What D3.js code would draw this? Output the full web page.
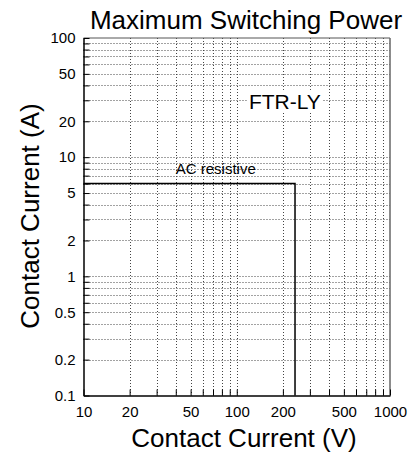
<!DOCTYPE html>
<html>
<head>
<meta charset="utf-8">
<script src="https://cdn.jsdelivr.net/npm/d3@7"></script>
<style>
  body { margin: 0; background: #fff; }
  text { font-family: "Liberation Sans", Arial, sans-serif; fill: #000; }
</style>
</head>
<body>
<div id="chart"></div>
<script>
// limit curve: AC resistive (voltage V, current A)
const limitVolts = [10, 240, 240];
const limitAmps = [6, 6, 0.1];
const xLabels = [10, 20, 50, 100, 200, 500, 1000];
const yLabels = [0.1, 0.2, 0.5, 1, 2, 5, 10, 20, 50, 100];
const xDomain = [10, 1000];
const yDomain = [0.1, 100];

const W = 415, H = 457;
const svg = d3.select("#chart").append("svg").attr("width", W).attr("height", H);

const x = d3.scaleLog().domain(xDomain).range([83.5, 390]);
const y = d3.scaleLog().domain(yDomain).range([395.5, 38]);

const xMinor = x.ticks();
const yMinor = y.ticks();

// grid
svg.append("g").selectAll("line.vg")
  .data(xMinor.filter(d => d > xDomain[0] && d < xDomain[1]))
  .join("line")
  .attr("x1", d => Math.round(x(d)) + 0.5).attr("x2", d => Math.round(x(d)) + 0.5)
  .attr("y1", y.range()[1]).attr("y2", y.range()[0])
  .attr("stroke", "#444").attr("stroke-width", 1).attr("stroke-dasharray", "1,2");

svg.append("g").selectAll("line.hg")
  .data(yMinor.filter(d => d > yDomain[0] && d < yDomain[1]))
  .join("line")
  .attr("y1", d => Math.round(y(d)) + 0.5).attr("y2", d => Math.round(y(d)) + 0.5)
  .attr("x1", x.range()[0]).attr("x2", x.range()[1])
  .attr("stroke", "#444").attr("stroke-width", 1).attr("stroke-dasharray", "1,2");

// frame top/right
svg.append("line").attr("x1", 83.5).attr("x2", 390).attr("y1", 38).attr("y2", 38)
  .attr("stroke", "#555").attr("stroke-width", 1);
svg.append("line").attr("x1", 390).attr("x2", 390).attr("y1", 38).attr("y2", 395.5)
  .attr("stroke", "#666").attr("stroke-width", 1.5);

// axes
const xAxis = svg.append("g").attr("transform", "translate(0,395.5)")
  .call(d3.axisBottom(x).tickValues(xMinor).tickSize(-6).tickSizeOuter(0)
    .tickFormat(d => xLabels.includes(d) ? d : ""));
xAxis.select(".domain").attr("stroke", "#000").attr("stroke-width", 1.5);
xAxis.selectAll(".tick line").attr("stroke", "#000");
xAxis.selectAll(".tick text").attr("dy", null).attr("y", 21)
  .style("font-size", "15px").style("font-family", "'Liberation Sans', Arial, sans-serif");

const yAxis = svg.append("g").attr("transform", "translate(83.5,0)")
  .call(d3.axisLeft(y).tickValues(yMinor).tickSize(-6).tickSizeOuter(0)
    .tickFormat(d => yLabels.includes(d) ? d : ""));
yAxis.select(".domain").attr("stroke", "#000").attr("stroke-width", 1.5);
yAxis.selectAll(".tick line").attr("stroke", "#000");
yAxis.selectAll(".tick text").attr("x", -8)
  .style("font-size", "15px").style("font-family", "'Liberation Sans', Arial, sans-serif");

// limit line
const line = d3.line().x((d, i) => x(limitVolts[i])).y(d => y(d));
svg.append("path").datum(limitAmps).attr("d", line)
  .attr("fill", "none").attr("stroke", "#000").attr("stroke-width", 1.5);

// annotations
svg.append("text").attr("x", x(40)).attr("y", y(7.2))
  .style("font-size", "15px").text("AC resistive");

const ftr = svg.append("text").attr("x", x(120)).attr("y", y(25.4))
  .style("font-size", "21px").text("FTR-LY");
const bb = ftr.node().getBBox();
svg.insert("rect", function() { return ftr.node(); })
  .attr("x", bb.x - 2).attr("y", bb.y).attr("width", bb.width + 4).attr("height", bb.height)
  .attr("fill", "#fff");

// titles
svg.append("text").attr("x", 246).attr("y", 29).attr("text-anchor", "middle")
  .style("font-size", "26px").text("Maximum Switching Power");
svg.append("text").attr("x", 244).attr("y", 447).attr("text-anchor", "middle")
  .style("font-size", "26px").text("Contact Current (V)");
svg.append("text").attr("transform", "translate(39,216) rotate(-90)").attr("text-anchor", "middle")
  .style("font-size", "26px").text("Contact Current (A)");
</script>
</body>
</html>
